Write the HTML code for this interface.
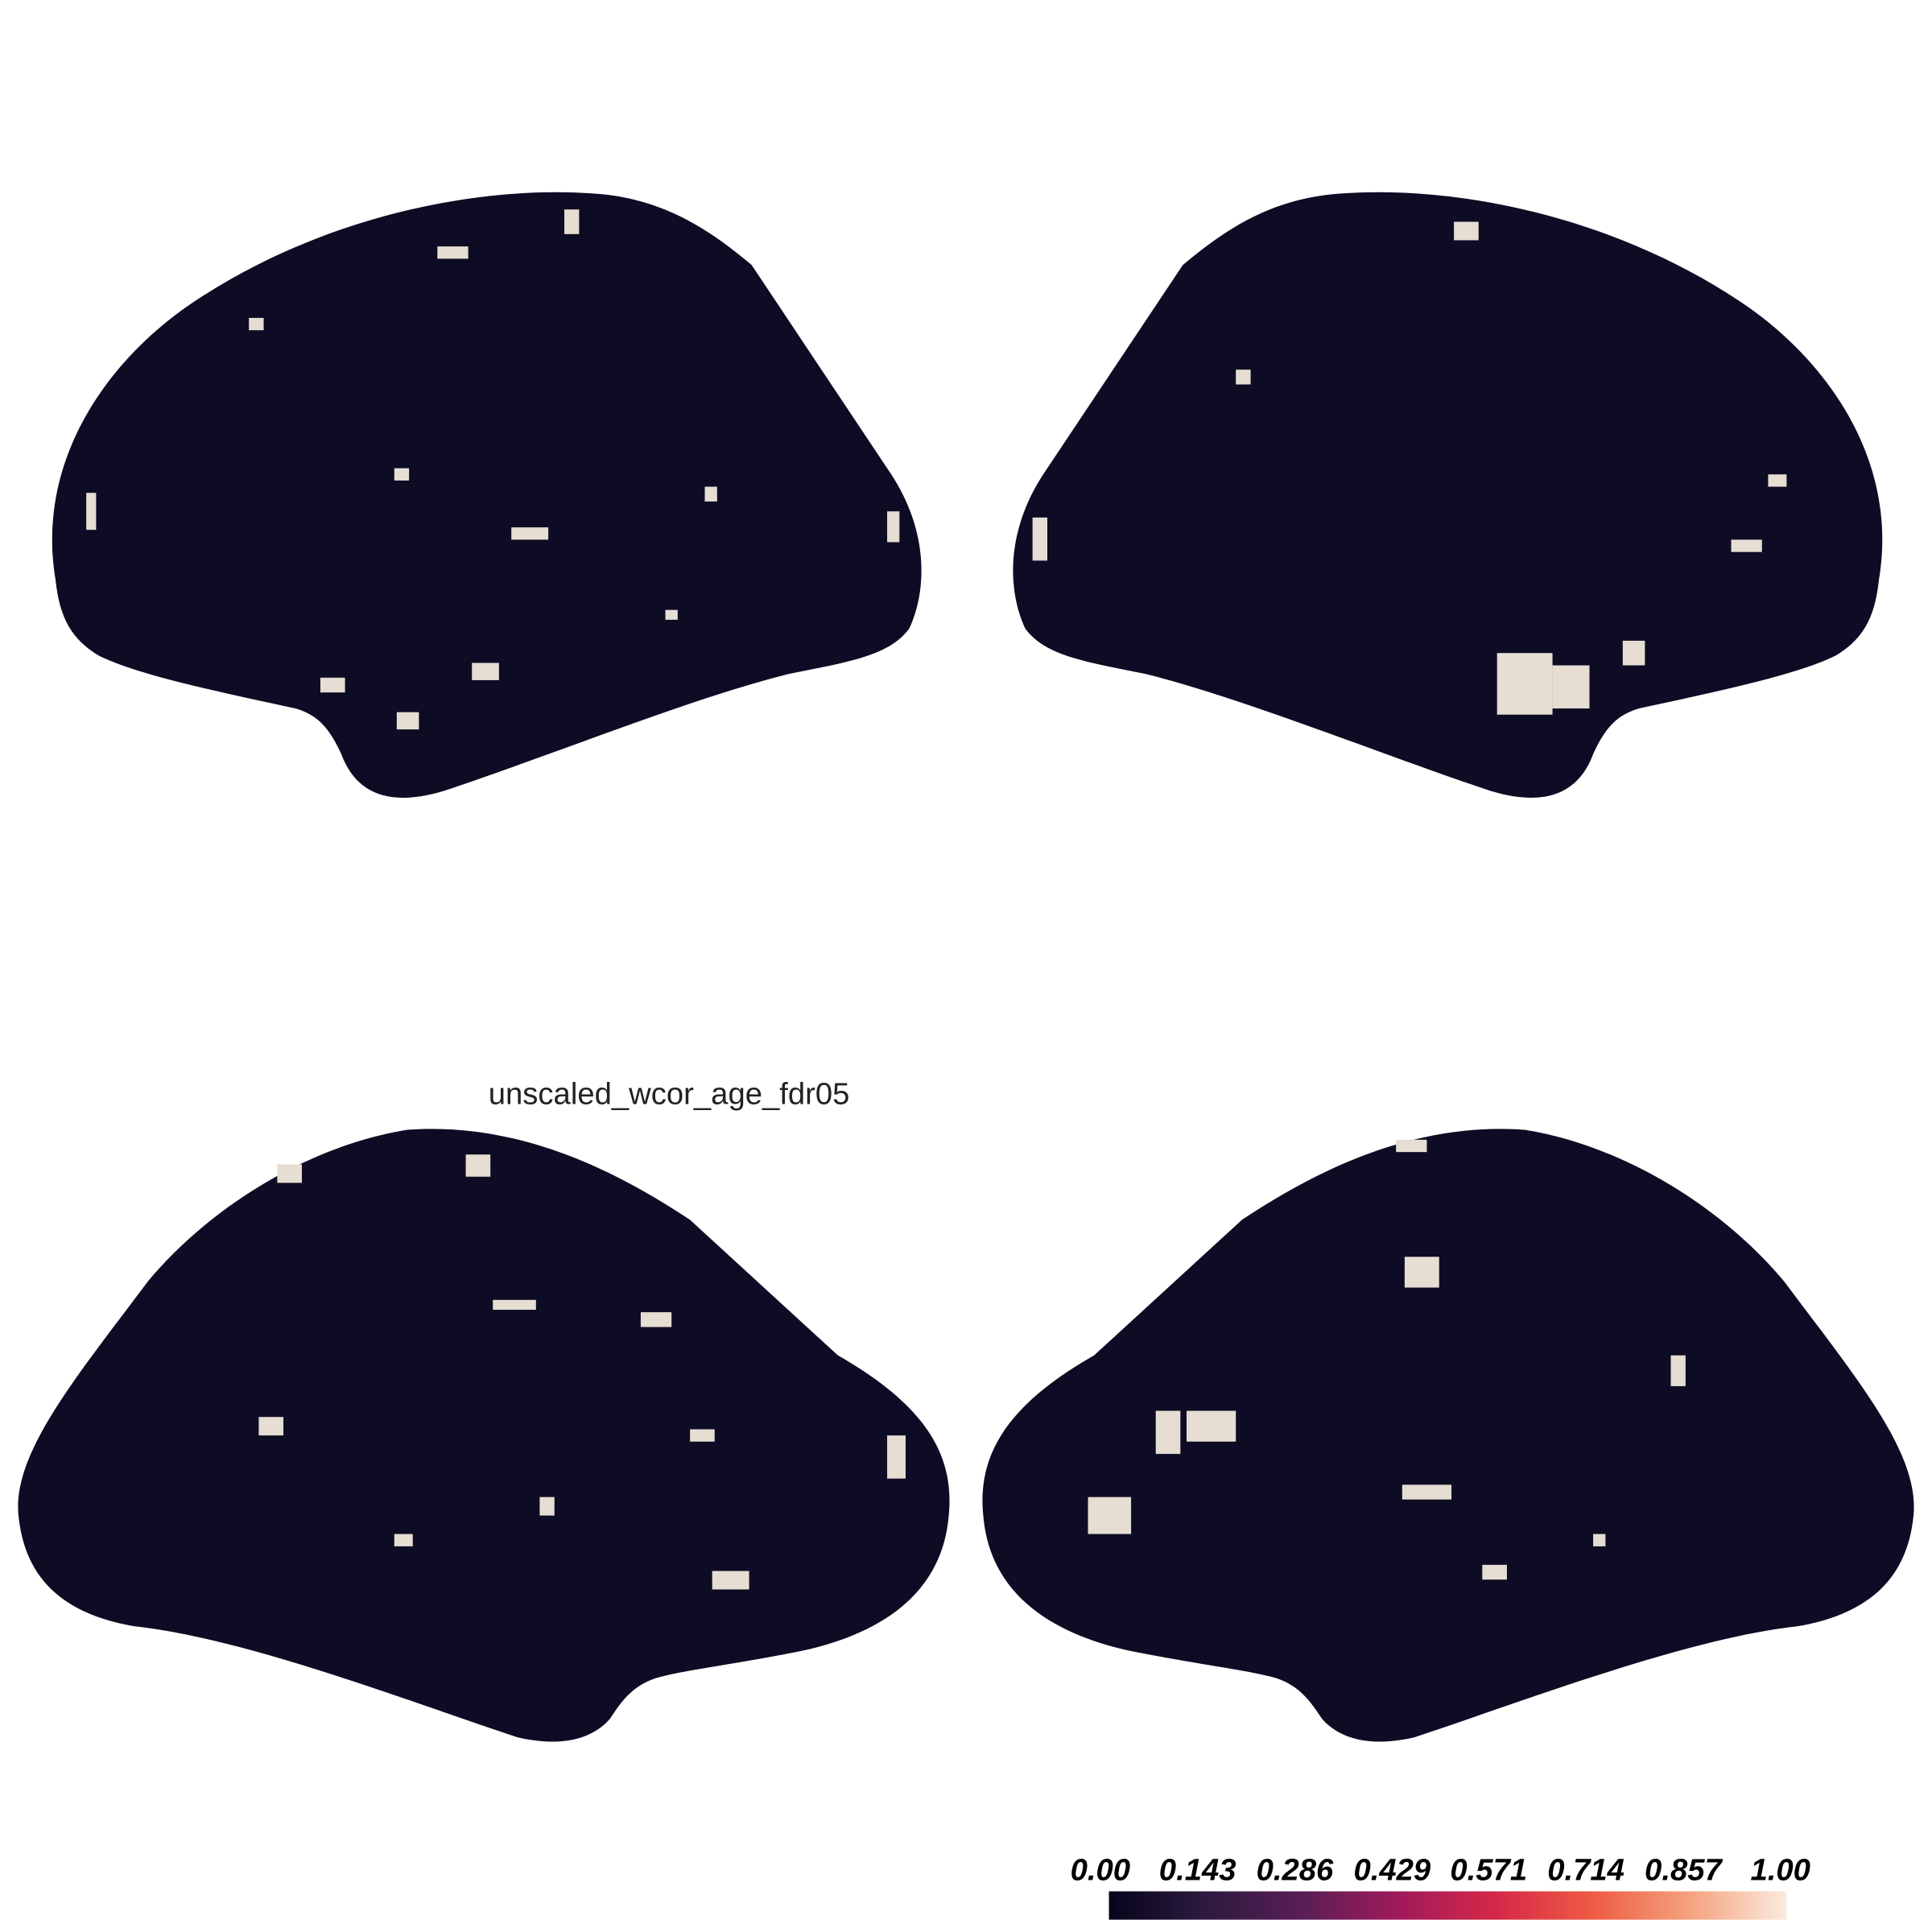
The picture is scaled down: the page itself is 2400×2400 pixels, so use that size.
<!DOCTYPE html>
<html><head><meta charset="utf-8"><style>
html,body{margin:0;padding:0;background:#fff;}
svg{display:block;}
</style></head><body>
<svg width="2400" height="2400" viewBox="0 0 1568 1568" xmlns="http://www.w3.org/2000/svg">
<defs>
<linearGradient id="cmap" x1="0" x2="1" y1="0" y2="0">
<stop offset="0" stop-color="#06051a"/>
<stop offset="0.14" stop-color="#2c1a3f"/>
<stop offset="0.286" stop-color="#5a1e55"/>
<stop offset="0.429" stop-color="#a11a5b"/>
<stop offset="0.571" stop-color="#d52848"/>
<stop offset="0.714" stop-color="#ef5b44"/>
<stop offset="0.857" stop-color="#f5a27e"/>
<stop offset="1" stop-color="#faebde"/>
</linearGradient>
<path id="lat" d="M 45,470 C 30,380 80,300 150,250 C 250,180 380,150 480,157 C 540,160 580,190 610,215 L 720,380 C 755,430 752,480 738,510 C 722,532 690,537 640,547 C 560,567 450,612 360,642 C 320,654 290,647 277,612 C 267,590 257,580 240,575 C 170,560 110,547 80,532 C 55,517 48,497 45,470 Z"/>
<path id="med" d="M 15,1230 C 10,1180 60,1120 120,1040 C 170,980 250,930 330,917 C 420,910 500,950 560,990 L 680,1100 C 750,1140 775,1180 770,1230 C 765,1290 720,1325 650,1340 C 600,1350 560,1355 540,1360 C 515,1365 505,1380 495,1395 C 480,1412 455,1418 420,1410 C 330,1380 200,1330 110,1320 C 50,1310 20,1280 15,1230 Z"/>
</defs>
<g>
<use href="#lat" fill="#0d0c24"/>
<g fill="#e6ddd3">
<rect x="415" y="428" width="30" height="10"/><rect x="383" y="538" width="22" height="14"/><rect x="322" y="578" width="18" height="14"/><rect x="572" y="395" width="10" height="12"/><rect x="720" y="415" width="10" height="25"/><rect x="355" y="200" width="25" height="10"/><rect x="458" y="170" width="12" height="20"/><rect x="202" y="258" width="12" height="10"/><rect x="260" y="550" width="20" height="12"/><rect x="70" y="400" width="8" height="30"/><rect x="320" y="380" width="12" height="10"/><rect x="540" y="495" width="10" height="8"/>
</g></g>
<g transform="translate(1570,0) scale(-1,1)">
<use href="#lat" fill="#0d0c24"/>
<g fill="#e6ddd3">
<rect x="310" y="530" width="45" height="50"/><rect x="280" y="540" width="30" height="35"/><rect x="720" y="420" width="12" height="35"/><rect x="140" y="438" width="25" height="10"/><rect x="555" y="300" width="12" height="12"/><rect x="120" y="385" width="15" height="10"/><rect x="235" y="520" width="18" height="20"/><rect x="370" y="180" width="20" height="15"/>
</g></g>
<g>
<use href="#med" fill="#0d0c24"/>
<g fill="#e6ddd3">
<rect x="578" y="1275" width="30" height="15"/><rect x="720" y="1165" width="15" height="35"/><rect x="520" y="1065" width="25" height="12"/><rect x="400" y="1055" width="35" height="8"/><rect x="378" y="937" width="20" height="18"/><rect x="438" y="1215" width="12" height="15"/><rect x="210" y="1150" width="20" height="15"/><rect x="320" y="1245" width="15" height="10"/><rect x="560" y="1160" width="20" height="10"/><rect x="225" y="945" width="20" height="15"/>
</g></g>
<g transform="translate(1568,0) scale(-1,1)">
<use href="#med" fill="#0d0c24"/>
<g fill="#e6ddd3">
<rect x="565" y="1145" width="40" height="25"/><rect x="610" y="1145" width="20" height="35"/><rect x="650" y="1215" width="35" height="30"/><rect x="400" y="1020" width="28" height="25"/><rect x="390" y="1205" width="40" height="12"/><rect x="200" y="1100" width="12" height="25"/><rect x="345" y="1270" width="20" height="12"/><rect x="410" y="925" width="25" height="10"/><rect x="265" y="1245" width="10" height="10"/>
</g></g>
<text x="543" y="896" text-anchor="middle" font-family="Liberation Sans, sans-serif" font-size="25" fill="#222">unscaled_wcor_age_fdr05</text>
<g id="colorbar">
<rect x="900" y="1535" width="550" height="23" fill="url(#cmap)"/>
</g>
</svg>
<script>
const tickValues = [0, 0.143, 0.286, 0.429, 0.571, 0.714, 0.857, 1.0];
const tickLabels = ["0.00","0.143","0.286","0.429","0.571","0.714","0.857","1.00"];
const cb = document.getElementById('colorbar');
const x0 = 893, x1 = 1445;
const xs = v => x0 + (x1 - x0) * v;
tickValues.forEach((v, i) => {
  const t = document.createElementNS('http://www.w3.org/2000/svg', 'text');
  t.setAttribute('x', xs(v));
  t.setAttribute('y', 1526);
  t.setAttribute('text-anchor', 'middle');
  t.setAttribute('font-family', 'Liberation Sans, sans-serif');
  t.setAttribute('font-size', '25');
  t.setAttribute('font-weight', 'bold');
  t.setAttribute('font-style', 'italic');
  t.setAttribute('fill', '#000');
  t.textContent = tickLabels[i];
  
  
  cb.appendChild(t);
});
</script>
</body></html>
